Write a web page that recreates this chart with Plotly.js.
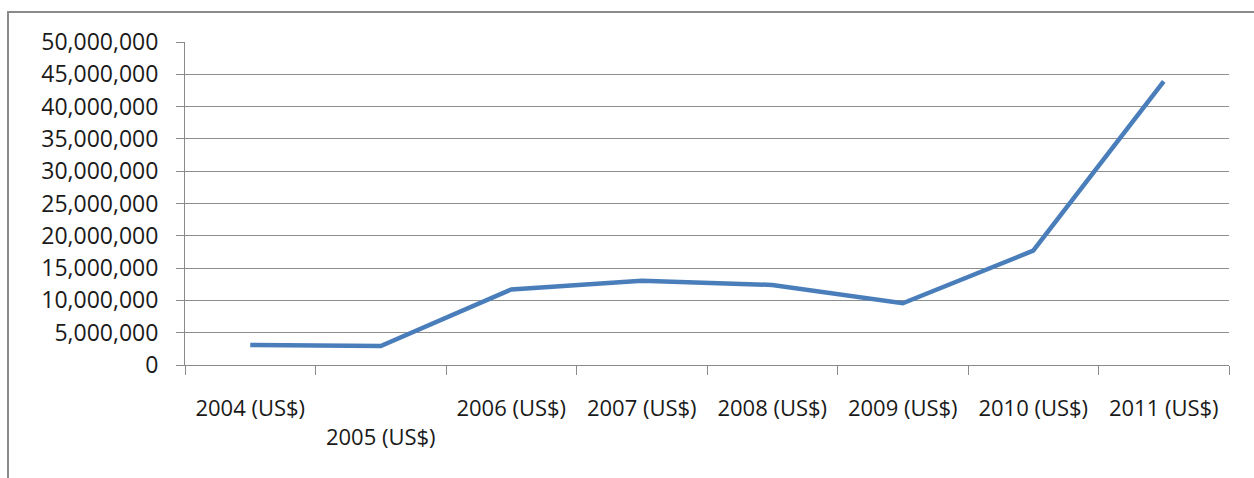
<!DOCTYPE html>
<html>
<head>
<meta charset="utf-8">
<script src="https://cdn.plot.ly/plotly-3.0.1.min.js"></script>
<style>
html,body{margin:0;padding:0;background:#fff;}
#wrap{position:relative;width:1254px;height:478px;overflow:hidden;}
#frame{position:absolute;left:7px;top:11px;width:1260px;height:480px;border-left:2px solid #8a8a8a;border-top:2px solid #8a8a8a;pointer-events:none;}
#chart{position:absolute;left:0;top:0;width:1254px;height:478px;}
</style>
</head>
<body>
<div id="wrap">
<div id="chart"></div>
<div id="frame"></div>
</div>
<script>
const categories = ["2004 (US$)","2005 (US$)","2006 (US$)","2007 (US$)","2008 (US$)","2009 (US$)","2010 (US$)","2011 (US$)"];
const values = [3100000, 2950000, 11700000, 13050000, 12400000, 9550000, 17700000, 43900000];
const yTickVals = [0,5000000,10000000,15000000,20000000,25000000,30000000,35000000,40000000,45000000,50000000];
const yTickText = ["0","5,000,000","10,000,000","15,000,000","20,000,000","25,000,000","30,000,000","35,000,000","40,000,000","45,000,000","50,000,000"];

// second label sits one line lower (staggered, as in the original)
const xTickText = categories.map((c, i) => i === 1 ? "<br>" + c : c);

const trace = {
  x: categories,
  y: values,
  type: "scatter",
  mode: "lines",
  line: {color: "#4a7ebb", width: 4.5},
  hoverinfo: "x+y"
};

const layout = {
  width: 1254,
  height: 478,
  margin: {l: 185, r: 25, t: 42, b: 113},
  paper_bgcolor: "rgba(0,0,0,0)",
  plot_bgcolor: "rgba(0,0,0,0)",
  showlegend: false,
  font: {family: "Open Sans, sans-serif", color: "#1a1a1a"},
  xaxis: {
    type: "category",
    tickmode: "array",
    tickvals: categories,
    ticktext: xTickText,
    tickson: "boundaries",
    ticks: "outside",
    ticklen: 9,
    tickcolor: "#8a8a8a",
    tickwidth: 1,
    showline: true,
    linecolor: "#8a8a8a",
    linewidth: 1,
    showgrid: false,
    zeroline: false,
    ticklabelstandoff: 24,
    tickfont: {family: "Open Sans, sans-serif", size: 22, color: "#1a1a1a"},
    range: [-0.5, 7.5],
    fixedrange: true
  },
  yaxis: {
    range: [0, 50000000],
    tickmode: "array",
    tickvals: yTickVals,
    ticktext: yTickText,
    ticks: "outside",
    ticklen: 8,
    tickcolor: "#8a8a8a",
    tickwidth: 1,
    showline: true,
    linecolor: "#8a8a8a",
    linewidth: 1,
    showgrid: true,
    gridcolor: "#8e8e8e",
    gridwidth: 1,
    zeroline: false,
    ticklabelstandoff: 13,
    tickfont: {family: "Open Sans, sans-serif", size: 23, color: "#1a1a1a"},
    fixedrange: true
  }
};

Plotly.newPlot("chart", [trace], layout, {displayModeBar: false, staticPlot: true});
</script>
</body>
</html>
